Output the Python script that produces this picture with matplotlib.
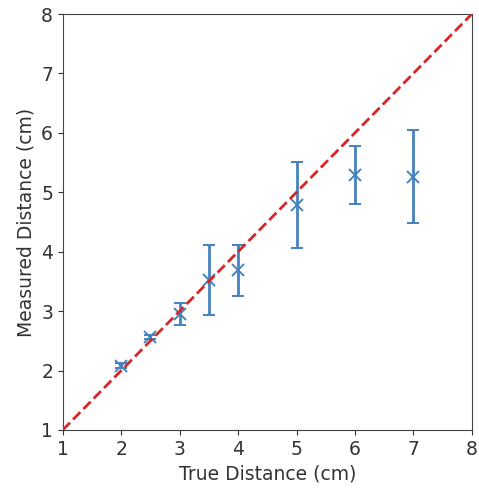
import matplotlib
matplotlib.use("Agg")
import matplotlib.pyplot as plt

# measured vs true distance
true_dist = [2, 2.5, 3, 3.5, 4, 5, 6, 7]
measured = [2.08, 2.56, 2.95, 3.52, 3.69, 4.79, 5.29, 5.26]
errors = [0.04, 0.03, 0.18, 0.59, 0.43, 0.72, 0.49, 0.78]
ideal = [1, 8]

fig = plt.figure(figsize=(4.79, 4.94), dpi=100)
ax = fig.add_axes([0.131, 0.1296, 0.854, 0.842])

ax.plot(ideal, ideal, '--', color='#d62728', linewidth=2, zorder=3)
ax.errorbar(true_dist, measured, yerr=errors, fmt='x', color='#4682be',
            markersize=9, markeredgewidth=1.4, elinewidth=2, capsize=4,
            capthick=2, zorder=2)

ax.set_xlim(1, 8)
ax.set_ylim(1, 8)
ax.set_xticks(range(1, 9))
ax.set_yticks(range(1, 9))
ax.tick_params(labelsize=13.5, colors='#333333')
for s in ax.spines.values():
    s.set_color('#444444')
ax.set_xlabel("True Distance (cm)", fontsize=13.5, color='#333333')
ax.set_ylabel("Measured Distance (cm)", fontsize=13.5, color='#333333')

fig.savefig("out.png", dpi=100)
